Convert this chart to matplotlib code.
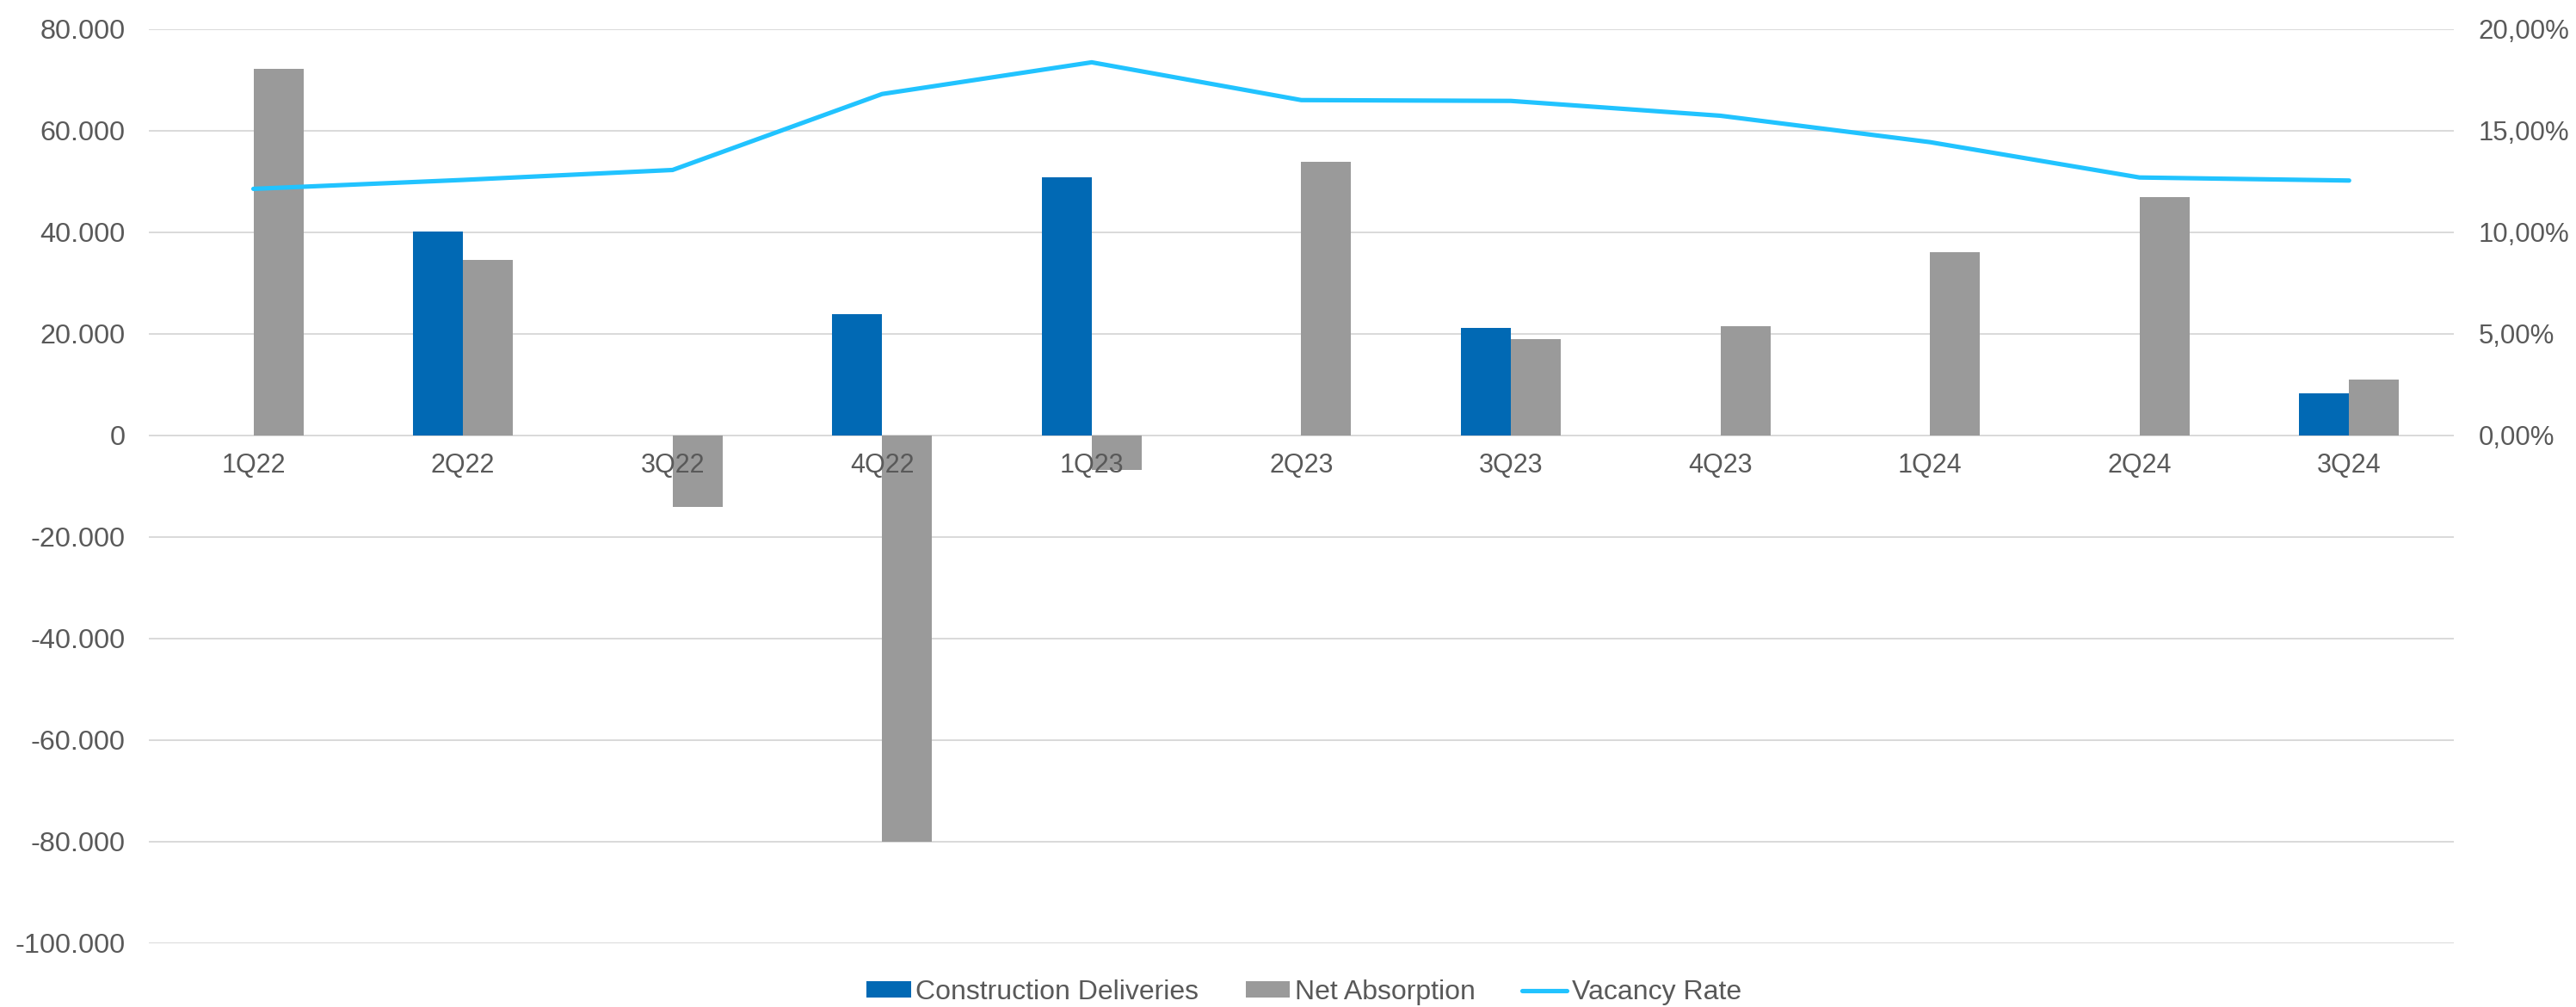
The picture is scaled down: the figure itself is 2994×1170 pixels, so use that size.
import numpy as np
import matplotlib
matplotlib.use("Agg")
import matplotlib.pyplot as plt
from matplotlib.ticker import FuncFormatter, FixedLocator
from matplotlib.patches import Patch
from matplotlib.lines import Line2D

# Quarterly market data
quarters = ["1Q22", "2Q22", "3Q22", "4Q22", "1Q23", "2Q23",
            "3Q23", "4Q23", "1Q24", "2Q24", "3Q24"]
construction_deliveries = [0, 40100, 0, 23900, 50800, 0, 21100, 0, 0, 0, 8300]
net_absorption = [72200, 34600, -14200, -80000, -6800, 53900,
                  19000, 21400, 36100, 46900, 10900]
vacancy_rate = [0.1213, 0.1257, 0.1306, 0.1680, 0.1836, 0.1650,
                0.1646, 0.1573, 0.1443, 0.1269, 0.1254]

left_ticks = [80000, 60000, 40000, 20000, 0, -20000, -40000, -60000, -80000, -100000]
right_ticks = [0.0, 0.05, 0.10, 0.15, 0.20]

BLUE = "#0169B4"
GRAY = "#9A9A9A"
CYAN = "#21C3FF"
TEXT = "#595959"
GRID = "#D9D9D9"

plt.rcParams["font.family"] = ["Liberation Sans", "DejaVu Sans"]

fig = plt.figure(figsize=(29.94, 11.70), dpi=100)
ax = fig.add_axes([0.0577, 0.0635, 0.8949, 0.9077])

x = np.arange(len(quarters))
w = 0.238
ax.bar(x - w / 2, construction_deliveries, width=w, color=BLUE, zorder=2)
ax.bar(x + w / 2, net_absorption, width=w, color=GRAY, zorder=2)

ax.set_xlim(-0.5, len(quarters) - 0.5)
ax.set_ylim(-100000, 80000)
ax.yaxis.set_major_locator(FixedLocator(left_ticks))


def thousands(v, pos=None):
    s = f"{abs(int(round(v))):,}".replace(",", ".")
    return ("-" if v < 0 else "") + s


ax.yaxis.set_major_formatter(FuncFormatter(thousands))
ax.grid(axis="y", color=GRID, linewidth=1.4, zorder=0)
ax.set_axisbelow(True)
# category labels sit on top of the bars
ax.xaxis.set_zorder(4)
for side in ["left", "right", "top"]:
    ax.spines[side].set_visible(False)
ax.spines["bottom"].set_position(("data", 0))
ax.spines["bottom"].set_visible(False)

ax.set_xticks(x)
ax.set_xticklabels(quarters)
ax.tick_params(axis="x", length=0, pad=14.5, labelsize=22, labelcolor=TEXT)
ax.tick_params(axis="y", length=0, pad=19.5, labelsize=23.3, labelcolor=TEXT)

ax2 = ax.twinx()
ax2.plot(x, vacancy_rate, color=CYAN, linewidth=3.7,
         solid_capstyle="round", solid_joinstyle="round", zorder=3)
ax2.set_ylim(-0.25, 0.20)
ax2.yaxis.set_major_locator(FixedLocator(right_ticks))
ax2.yaxis.set_major_formatter(
    FuncFormatter(lambda v, p: f"{v * 100:.2f}%".replace(".", ",")))
ax2.tick_params(axis="y", length=0, pad=20.7, labelsize=22.4, labelcolor=TEXT)
for side in ax2.spines:
    ax2.spines[side].set_visible(False)

handles = [
    Patch(facecolor=BLUE, edgecolor="none", label="Construction Deliveries"),
    Patch(facecolor=GRAY, edgecolor="none", label="Net Absorption"),
    Line2D([0], [0], color=CYAN, linewidth=3.7, solid_capstyle="round",
           label="Vacancy Rate"),
]
leg = fig.legend(handles=handles, loc="center left", ncol=3,
                 bbox_to_anchor=(0.3267, 0.0145), frameon=False,
                 fontsize=23, handlelength=1.62, handleheight=0.52,
                 handletextpad=0.18, columnspacing=1.7)
for t in leg.get_texts():
    t.set_color(TEXT)

fig.savefig("out.png", dpi=100)
